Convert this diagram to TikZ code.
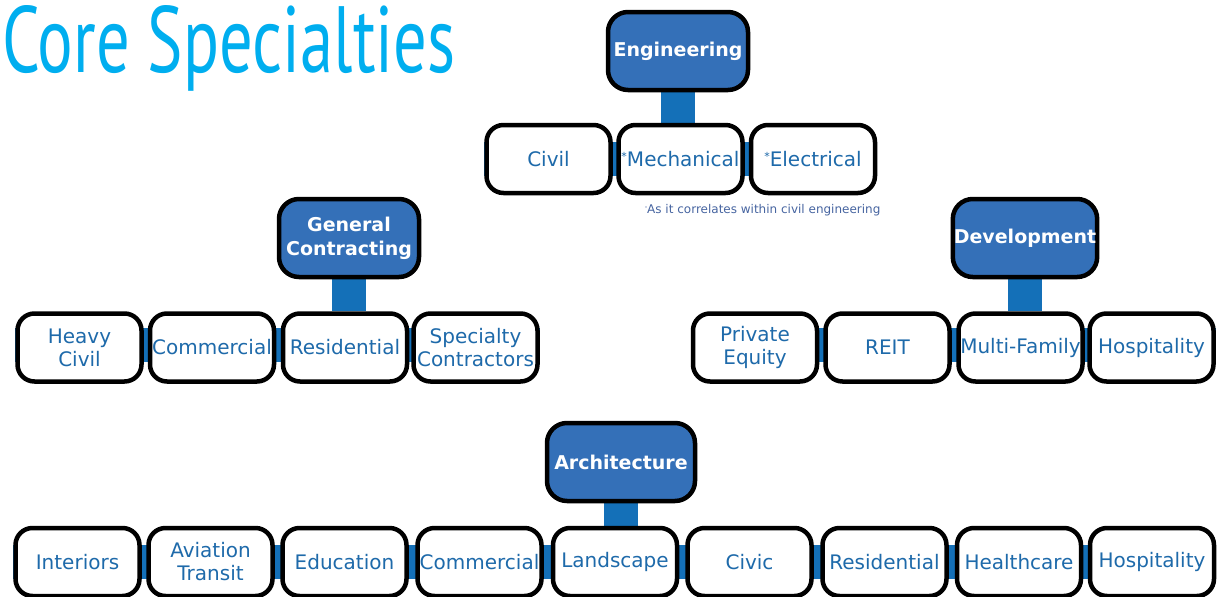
\documentclass[tikz,border=0pt]{standalone}
\usepackage{graphicx}
\usepackage{fontspec}
\setmainfont{DejaVu Sans}
\newfontfamily\titlefont{PT Sans}
\usetikzlibrary{positioning,backgrounds}

\definecolor{titlecyan}{RGB}{0,174,239}
\definecolor{headblue}{RGB}{52,112,184}
\definecolor{leafblue}{RGB}{30,106,170}
\definecolor{barblue}{RGB}{20,112,184}
\definecolor{notegray}{RGB}{70,100,160}

\newcommand{\starmark}{\raisebox{0.55ex}{\fontsize{11}{11}\selectfont *}}

\begin{document}
\begin{tikzpicture}[x=1pt,y=-1pt,
    header/.style={draw=black,line width=4.5pt,fill=headblue,rounded corners=20pt,text=white,
      font=\fontsize{19}{24}\selectfont\bfseries,align=center,
      minimum width=140pt,minimum height=78pt,inner sep=1pt},
    leaf/.style={draw=black,line width=4.5pt,fill=white,rounded corners=17pt,text=leafblue,
      font=\fontsize{20}{23}\selectfont,align=center,
      minimum width=124pt,minimum height=68pt,inner sep=1pt},
    stem/.style={draw=barblue,line width=34pt},
    rail/.style={draw=barblue,line width=34pt}]
    \useasboundingbox (0,0) rectangle (1224,597);

    % title
    \node[anchor=base west,inner sep=0pt,text=titlecyan] (title) at (2,72)
        {\resizebox{453pt}{67pt}{\titlefont Core Specialties}};

    % engineering
    \node[header] (eng) at (678,51) {Engineering};
    \node[leaf] (engCivil) at (548.5,159) {Civil};
    \node[leaf] (engMech) at (680.5,159) {\starmark Mechanical};
    \node[leaf] (engElec) at (813,159) {\starmark Electrical};
    \node[anchor=base west,inner sep=0pt,text=notegray,font=\fontsize{12}{14}\selectfont] (engNote) at (645,213)
        {\raisebox{0.6ex}{\fontsize{4}{4}\selectfont *}As it correlates within civil engineering};

    % general contracting
    \node[header] (gc) at (349,238) {General\\Contracting};
    \node[leaf] (gcHeavy) at (79.5,347.5) {Heavy\\Civil};
    \node[leaf] (gcComm) at (212,347.5) {Commercial};
    \node[leaf] (gcRes) at (345,347.5) {Residential};
    \node[leaf] (gcSpec) at (475.5,347.5) {Specialty\\Contractors};

    % development
    \node[header] (dev) at (1025,238) {Development};
    \node[leaf] (devEquity) at (755,347.5) {Private\\Equity};
    \node[leaf] (devReit) at (887.5,347.5) {REIT};
    \node[leaf] (devMulti) at (1020.5,347.5) {Multi-Family};
    \node[leaf] (devHosp) at (1151.5,347.5) {Hospitality};

    % architecture
    \node[header,minimum width=148pt] (arch) at (621,462) {Architecture};
    \node[leaf] (archInt) at (77.5,562) {Interiors};
    \node[leaf] (archAvi) at (210.5,562) {Aviation\\Transit};
    \node[leaf] (archEdu) at (344.5,562) {Education};
    \node[leaf] (archComm) at (479.5,562) {Commercial};
    \node[leaf] (archLand) at (615,562) {Landscape};
    \node[leaf] (archCivic) at (749.5,562) {Civic};
    \node[leaf] (archRes) at (884.5,562) {Residential};
    \node[leaf] (archHealth) at (1019,562) {Healthcare};
    \node[leaf] (archHosp) at (1152,562) {Hospitality};

    % connectors behind the boxes
    \begin{pgfonlayer}{background}
        \draw[stem] (eng.south) -- (eng.south |- engMech.north);
        \draw[rail] (engCivil.west) -- (engElec.east);
        \draw[stem] (gc.south) -- (gc.south |- gcRes.north);
        \draw[rail] ([yshift=3pt]gcHeavy.west) -- ([yshift=3pt]gcSpec.east);
        \draw[stem] (dev.south) -- (dev.south |- devMulti.north);
        \draw[rail] ([yshift=3pt]devEquity.west) -- ([yshift=3pt]devHosp.east);
        \draw[stem] (arch.south) -- (arch.south |- archLand.north);
        \draw[rail] (archInt.west) -- (archHosp.east);
    \end{pgfonlayer}
\end{tikzpicture}
\end{document}
